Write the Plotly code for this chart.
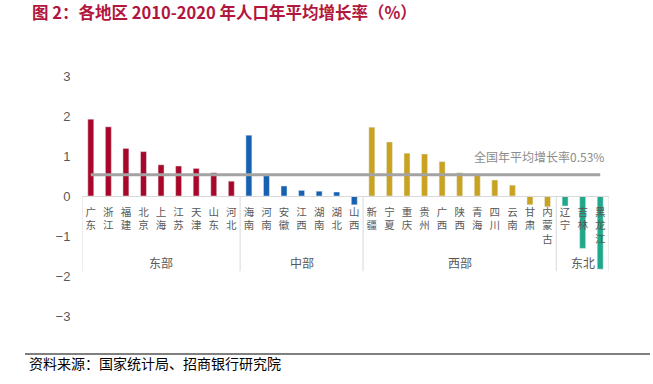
import plotly.graph_objects as go

groups = ["东部", "中部", "西部", "东北"]
group_members = [
    ["广东", "浙江", "福建", "北京", "上海", "江苏", "天津", "山东", "河北"],
    ["海南", "河南", "安徽", "江西", "湖南", "湖北", "山西"],
    ["新疆", "宁夏", "重庆", "贵州", "广西", "陕西", "青海", "四川", "云南", "甘肃", "内蒙古"],
    ["辽宁", "吉林", "黑龙江"],
]
group_values = [
    [1.92, 1.73, 1.19, 1.11, 0.78, 0.75, 0.69, 0.58, 0.37],
    [1.52, 0.51, 0.25, 0.14, 0.12, 0.10, -0.22],
    [1.72, 1.35, 1.07, 1.05, 0.86, 0.58, 0.52, 0.40, 0.27, -0.22, -0.27],
    [-0.25, -1.31, -1.83],
]
group_colors = ["#A8072A", "#1560B0", "#C9A21F", "#20A88A"]
national_avg = 0.53
y_ticks = [-3, -2, -1, 0, 1, 2, 3]

names = [n for g in group_members for n in g]
label_font = "Noto Sans CJK SC"

W, H = 653, 384
ML, MR, MT, MB = 82, 44, 76, 68

fig = go.Figure()
for g, members, vals, col in zip(groups, group_members, group_values, group_colors):
    fig.add_trace(go.Bar(x=members, y=vals, marker_color=col, name=g,
                         showlegend=False, hoverinfo="x+y"))

fig.add_trace(go.Scatter(x=names, y=[national_avg] * len(names), mode="lines",
                         line=dict(color="#A3A3A3", width=3), showlegend=False))

ymin, ymax = y_ticks[0], y_ticks[-1]
fig.update_layout(
    width=W, height=H,
    margin=dict(l=ML, r=MR, t=MT, b=MB, autoexpand=False),
    paper_bgcolor="white", plot_bgcolor="white",
    bargap=0.66,
    xaxis=dict(type="category", categoryorder="array", categoryarray=names,
               tickvals=names, ticktext=["<br>".join(n) for n in names],
               tickangle=0, tickfont=dict(family=label_font, size=10.5, color="#595959"),
               showline=True, linecolor="#D9D9D9", linewidth=1,
               anchor="free", position=(0 - ymin) / (ymax - ymin),
               ticks="outside", ticklen=6, tickcolor="rgba(0,0,0,0)",
               showgrid=False, zeroline=False,
               range=[-0.5, len(names) - 0.5]),
    yaxis=dict(range=[ymin, ymax], tickvals=y_ticks, showgrid=False, zeroline=False,
               showline=False, ticks="outside", ticklen=8, tickcolor="rgba(0,0,0,0)",
               tickfont=dict(family="Liberation Sans", size=13, color="#595959")),
)

# group dividers and labels
start = 0
bounds = [-0.5]
for g, members in zip(groups, group_members):
    n = len(members)
    center = start + (n - 1) / 2
    fig.add_annotation(x=center, y=-1.65, xref="x", yref="y", text=g, showarrow=False,
                       font=dict(family=label_font, size=12, color="#595959"))
    start += n
    bounds.append(start - 0.5)
for b in bounds:
    fig.add_shape(type="line", xref="x", yref="y", x0=b, x1=b, y0=0, y1=-1.88,
                  line=dict(color="#D9D9D9", width=1))

fig.add_annotation(x=names[-1], y=national_avg, xref="x", yref="y", xanchor="right",
                   yanchor="bottom", yshift=8, xshift=6, showarrow=False,
                   text="全国年平均增长率0.53%",
                   font=dict(family=label_font, size=12, color="#8C8C8C"))

fig.add_annotation(x=30, y=12.5, xref="paper", yref="paper",
                   text="<b>图 2：各地区 2010-2020 年人口年平均增长率（%）</b>",
                   showarrow=False, xanchor="left", yanchor="middle",
                   font=dict(family=label_font, size=16.5, color="#B2163D"))
fig.add_annotation(x=27, y=363, xref="paper", yref="paper", text="资料来源：国家统计局、招商银行研究院",
                   showarrow=False, xanchor="left", yanchor="middle",
                   font=dict(family=label_font, size=14, color="#000000"))
fig.add_shape(type="line", xref="paper", yref="paper", x0=25, x1=650, y0=354, y1=354,
              line=dict(color="#000000", width=1))

# convert page pixel placements of page-level elements into paper fractions
pw = W - ML - MR
ph = H - MT - MB
def px_x(p):
    return (p - ML) / pw
def px_y(p):
    return 1 - (p - MT) / ph
for a in fig.layout.annotations:
    if a.xref == "paper":
        a.x = px_x(a.x)
        a.y = px_y(a.y)
for s in fig.layout.shapes:
    if s.xref == "paper":
        s.x0, s.x1 = px_x(s.x0), px_x(s.x1)
        s.y0, s.y1 = px_y(s.y0), px_y(s.y1)

fig.write_html("out.html", config={"displayModeBar": False},
               post_script="document.body.style.margin='0';document.body.style.overflow='hidden';")
